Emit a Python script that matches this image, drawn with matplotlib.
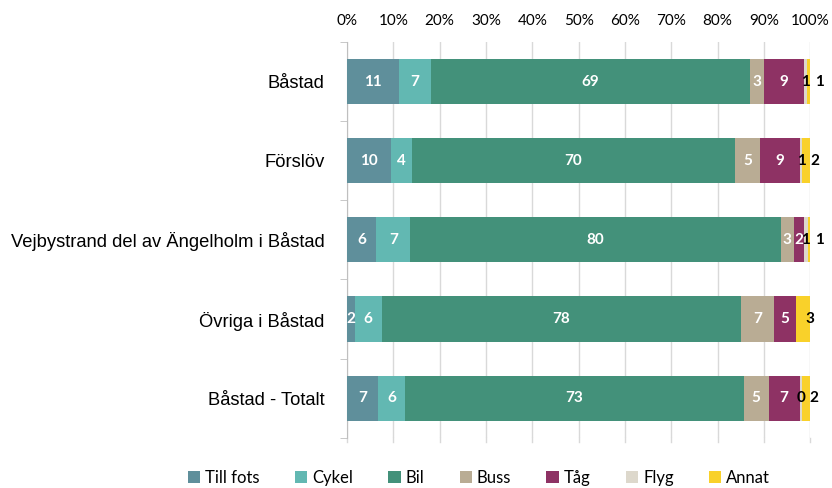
import matplotlib.pyplot as plt
import numpy as np

categories = ['Båstad', 'Förslöv', 'Vejbystrand del av Ängelholm i Båstad',
              'Övriga i Båstad', 'Båstad - Totalt']
modes = ['Till fots', 'Cykel', 'Bil', 'Buss', 'Tåg', 'Flyg', 'Annat']

# andel (%) per färdsätt, läst ur diagrammet
till_fots = [11.2, 9.6, 6.3, 1.7, 6.7]
cykel = [6.9, 4.4, 7.4, 5.8, 5.8]
bil = [68.8, 69.8, 79.9, 77.6, 73.1]
buss = [3.0, 5.3, 2.8, 7.1, 5.4]
tag = [8.8, 8.6, 2.2, 4.6, 6.7]
flyg = [0.6, 0.6, 0.8, 0.0, 0.4]
annat = [0.7, 1.7, 0.6, 3.2, 1.9]

colors = ['#5f8f9b', '#62b8b2', '#43917a', '#b9ac94', '#8e3264', '#ddd8cc', '#f9d12a']

raw_data = [till_fots, cykel, bil, buss, tag, flyg, annat]
data = np.array(raw_data)
data = data / data.sum(axis=0) * 100

fig = plt.figure(figsize=(8.32, 4.88), dpi=100)
ax = fig.add_axes([0.417, 0.103, 0.557, 0.811])

y = np.arange(len(categories))
left = np.zeros(len(categories))
lab_font = 'Lato'
for i, (mode, col) in enumerate(zip(modes, colors)):
    vals = data[i]
    ax.barh(y, vals, left=left, height=0.57, color=col, label=mode, zorder=3)
    for j, v in enumerate(vals):
        raw = raw_data[i][j]
        if raw == 0:
            continue
        cx = left[j] + v / 2
        txt = str(int(round(raw)))
        if mode == 'Flyg':
            ax.text(cx, y[j], txt, ha='center', va='center', color='black',
                    fontsize=11, fontweight='bold', family=lab_font, zorder=5)
        elif mode == 'Annat':
            if flyg[j] > 0:
                fx = left[j] - data[5][j] / 2 + 2.9
            else:
                fx = cx + 1.6
            ax.text(fx, y[j], txt, ha='center', va='center', color='black',
                    fontsize=11, fontweight='bold', family=lab_font, zorder=5)
        else:
            ax.text(cx, y[j], txt, ha='center', va='center', color='white',
                    fontsize=11, fontweight='bold', family=lab_font, zorder=5)
    left = left + vals

ax.set_xlim(0, 100)
ax.set_ylim(len(categories) - 0.5, -0.5)
ax.set_xticks(np.arange(0, 101, 10))
ax.set_xticklabels([f'{t}%' for t in range(0, 101, 10)], family=lab_font, fontsize=11)
ax.xaxis.tick_top()
ax.tick_params(axis='x', which='both', length=0, pad=10, colors='#000000')
ax.grid(axis='x', color='#d9d9d9', linewidth=1, zorder=0)

ax.set_yticks(y)
ax.set_yticklabels(categories, family='Liberation Sans', fontsize=13.2)
ax.set_yticks(np.arange(-0.5, len(categories), 1), minor=True)
ax.tick_params(axis='y', which='major', length=0, pad=16)
ax.tick_params(axis='y', which='minor', length=5, color='#bfbfbf')

for s in ['top', 'right', 'bottom']:
    ax.spines[s].set_visible(False)
ax.spines['left'].set_color('#bfbfbf')

# small ticks below the plot area
for t in range(0, 101, 10):
    ax.plot([t, t], [len(categories) - 0.5, len(categories) - 0.45], color='#d9d9d9',
            lw=1, clip_on=False, zorder=0)

fig.legend(loc='center', bbox_to_anchor=(479 / 832, 1 - 478 / 488), ncol=7, frameon=False,
           prop={'family': lab_font, 'size': 12}, handlelength=0.75, handleheight=0.75,
           handletextpad=0.3, columnspacing=2.1, borderpad=0)

fig.savefig('out.png', dpi=100)
